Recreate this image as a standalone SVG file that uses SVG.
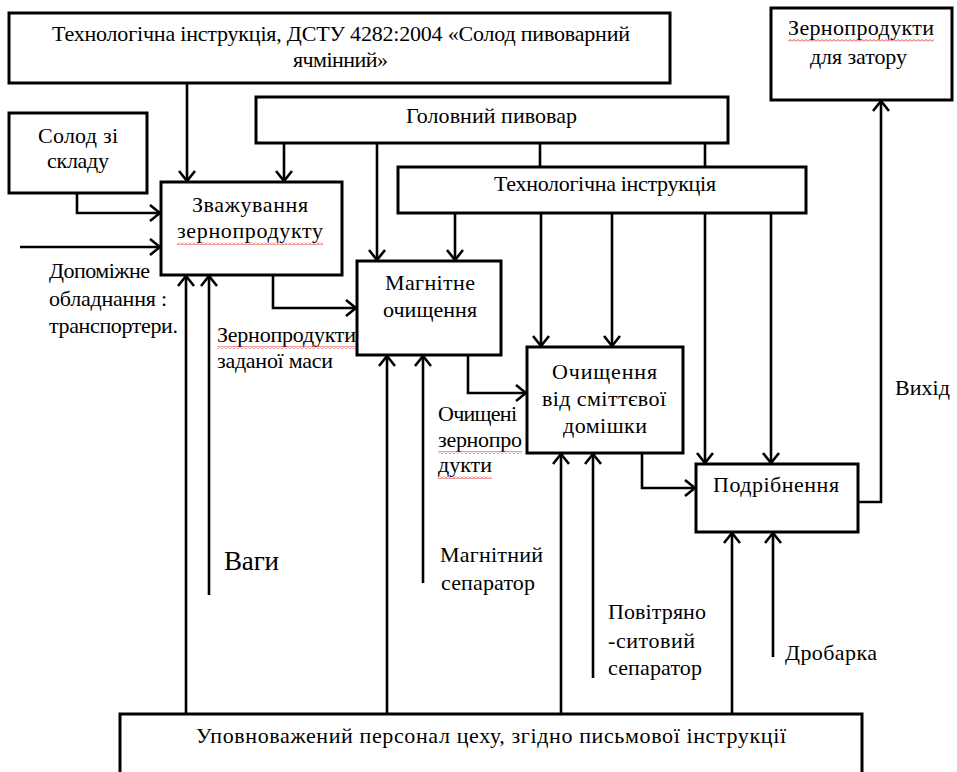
<svg xmlns="http://www.w3.org/2000/svg" width="957" height="772" viewBox="0 0 957 772" font-family="'Liberation Serif', 'DejaVu Serif', serif">
<style>
  .box { fill: #fff; stroke: #000; stroke-width: 3; }
  .ln { fill: none; stroke: #000; stroke-width: 2.6; }
  .arr { fill: none; stroke: #000; stroke-width: 2.6; marker-end: url(#ah); }
  .t { font-family: 'Liberation Serif', 'DejaVu Serif', serif; font-size: 22px; fill: #000; }
  .big { font-size: 27px; }
  .sq { fill: url(#wave); }
</style>
<defs>
  <marker id="ah" viewBox="0 0 12 18" refX="11" refY="9" markerWidth="12" markerHeight="18" markerUnits="userSpaceOnUse" orient="auto">
    <path d="M1,1 L11,9 L1,17" fill="none" stroke="#000" stroke-width="2.6"/>
  </marker>
  <pattern id="wave" width="4" height="3" patternUnits="userSpaceOnUse">
    <path d="M0,2.5 L2,0.5 L4,2.5" fill="none" stroke="#e02020" stroke-width="0.9"/>
  </pattern>
</defs>
<rect width="957" height="772" fill="#fff"/>

<g id="connectors">
  <line class="arr" x1="187" y1="83" x2="187" y2="181"/>
  <line class="arr" x1="284" y1="143" x2="284" y2="181"/>
  <line class="arr" x1="377" y1="143" x2="377" y2="260"/>
  <line class="ln" x1="540" y1="143" x2="540" y2="167"/>
  <line class="ln" x1="705" y1="143" x2="705" y2="167"/>
  <line class="arr" x1="455" y1="213" x2="455" y2="260"/>
  <line class="arr" x1="541" y1="213" x2="541" y2="346"/>
  <line class="arr" x1="612" y1="213" x2="612" y2="346"/>
  <line class="arr" x1="705" y1="213" x2="705" y2="463"/>
  <line class="arr" x1="771" y1="213" x2="771" y2="463"/>
  <path class="arr" d="M77,193 V213 H160"/>
  <line class="arr" x1="20" y1="247" x2="160" y2="247"/>
  <path class="arr" d="M273,275 V308 H356"/>
  <path class="arr" d="M468,355 V393 H526"/>
  <path class="arr" d="M642,453 V488 H695"/>
  <path class="arr" d="M858,502 H881 V101"/>
  <line class="arr" x1="186" y1="714" x2="186" y2="276"/>
  <line class="arr" x1="209" y1="595" x2="209" y2="276"/>
  <line class="arr" x1="387" y1="714" x2="387" y2="356"/>
  <line class="arr" x1="423" y1="583" x2="423" y2="356"/>
  <line class="arr" x1="561" y1="714" x2="561" y2="454"/>
  <line class="arr" x1="593" y1="678" x2="593" y2="454"/>
  <line class="arr" x1="732" y1="714" x2="732" y2="533"/>
  <line class="arr" x1="773" y1="657" x2="773" y2="533"/>
</g>

<g id="node-standard">
  <rect class="box" x="9" y="13" width="661" height="70"/>
  <text class="t" x="52" y="41" textLength="578" lengthAdjust="spacing">Технологічна інструкція, ДСТУ 4282:2004 «Солод пивоварний</text>
  <text class="t" x="293" y="67" textLength="95" lengthAdjust="spacing">ячмінний»</text>
</g>

<g id="node-output">
  <rect class="box" x="771" y="8" width="181" height="92"/>
  <text class="t" x="788" y="35" textLength="146" lengthAdjust="spacing">Зернопродукти</text>
  <rect class="sq" x="788" y="39" width="146" height="3"/>
  <text class="t" x="810" y="64" textLength="97" lengthAdjust="spacing">для затору</text>
</g>

<g id="node-solod">
  <rect class="box" x="9" y="113" width="138" height="80"/>
  <text class="t" x="38" y="143" textLength="80" lengthAdjust="spacing">Солод зі</text>
  <text class="t" x="47" y="168" textLength="62" lengthAdjust="spacing">складу</text>
</g>

<g id="node-brewer">
  <rect class="box" x="256" y="97" width="472" height="46"/>
  <text class="t" x="406" y="123" textLength="171" lengthAdjust="spacing">Головний пивовар</text>
</g>

<g id="node-instr">
  <rect class="box" x="398" y="167" width="408" height="46"/>
  <text class="t" x="494" y="191" textLength="222" lengthAdjust="spacing">Технологічна інструкція</text>
</g>

<g id="node-weigh">
  <rect class="box" x="161" y="182" width="181" height="93"/>
  <text class="t" x="192" y="212" textLength="116" lengthAdjust="spacing">Зважування</text>
  <text class="t" x="177" y="238" textLength="146" lengthAdjust="spacing">зернопродукту</text>
  <rect class="sq" x="177" y="242" width="146" height="3"/>
</g>

<g id="node-magnet">
  <rect class="box" x="357" y="261" width="144" height="94"/>
  <text class="t" x="385" y="290" textLength="90" lengthAdjust="spacing">Магнітне</text>
  <text class="t" x="383" y="317" textLength="94" lengthAdjust="spacing">очищення</text>
</g>

<g id="node-clean">
  <rect class="box" x="527" y="347" width="156" height="106"/>
  <text class="t" x="552" y="379" textLength="105" lengthAdjust="spacing">Очищення</text>
  <text class="t" x="542" y="406" textLength="124" lengthAdjust="spacing">від сміттєвої</text>
  <text class="t" x="563" y="433" textLength="84" lengthAdjust="spacing">домішки</text>
</g>

<g id="node-grind">
  <rect class="box" x="696" y="464" width="162" height="68"/>
  <text class="t" x="713" y="492" textLength="126" lengthAdjust="spacing">Подрібнення</text>
</g>

<g id="node-staff">
  <rect class="box" x="120" y="714" width="742" height="80"/>
  <text class="t" x="196" y="743" textLength="590" lengthAdjust="spacing">Уповноважений персонал цеху, згідно письмової інструкції</text>
</g>

<g id="labels">
  <text class="t" x="49" y="278" textLength="101" lengthAdjust="spacing">Допоміжне</text>
  <text class="t" x="49" y="306" textLength="118" lengthAdjust="spacing">обладнання :</text>
  <text class="t" x="49" y="333" textLength="129" lengthAdjust="spacing">транспортери.</text>

  <text class="t" x="217" y="342" textLength="139" lengthAdjust="spacing">Зернопродукти</text>
  <rect class="sq" x="217" y="346" width="139" height="3"/>
  <text class="t" x="217" y="368" textLength="116" lengthAdjust="spacing">заданої маси</text>

  <text class="t" x="438" y="421" textLength="79" lengthAdjust="spacing">Очищені</text>
  <text class="t" x="438" y="447" textLength="84" lengthAdjust="spacing">зернопро</text>
  <rect class="sq" x="438" y="451" width="84" height="3"/>
  <text class="t" x="438" y="472" textLength="54" lengthAdjust="spacing">дукти</text>
  <rect class="sq" x="438" y="476" width="54" height="3"/>

  <text class="t big" x="224" y="570" textLength="55" lengthAdjust="spacing">Ваги</text>

  <text class="t" x="440" y="562" textLength="103" lengthAdjust="spacing">Магнітний</text>
  <text class="t" x="441" y="590" textLength="94" lengthAdjust="spacing">сепаратор</text>

  <text class="t" x="608" y="619" textLength="98" lengthAdjust="spacing">Повітряно</text>
  <text class="t" x="608" y="648" textLength="87" lengthAdjust="spacing">-ситовий</text>
  <text class="t" x="608" y="675" textLength="94" lengthAdjust="spacing">сепаратор</text>

  <text class="t" x="785" y="660" textLength="92" lengthAdjust="spacing">Дробарка</text>

  <text class="t" x="895" y="395" textLength="55" lengthAdjust="spacing">Вихід</text>
</g>
</svg>
